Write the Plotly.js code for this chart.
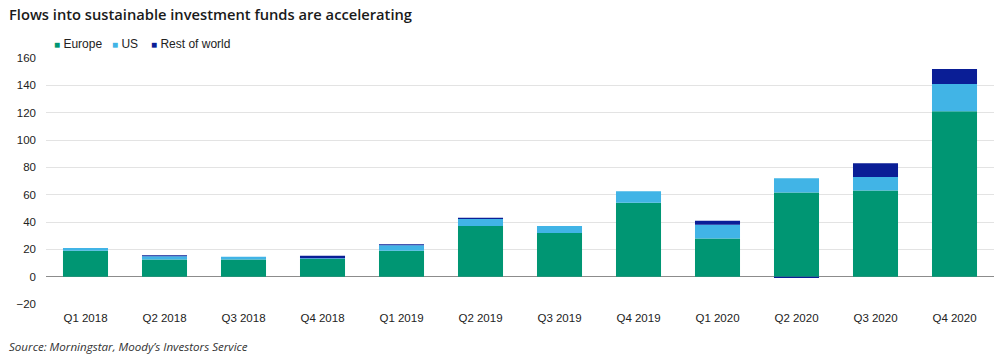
<!DOCTYPE html>
<html><head><meta charset="utf-8">
<script src="https://cdn.plot.ly/plotly-3.0.1.min.js"></script>
<style>html,body{margin:0;padding:0;background:#fff}#c{width:1004px;height:357px}</style>
</head><body><div id="c"></div>
<script>
const categories = ["Q1 2018","Q2 2018","Q3 2018","Q4 2018","Q1 2019","Q2 2019","Q3 2019","Q4 2019","Q1 2020","Q2 2020","Q3 2020","Q4 2020"];
const europe = [19, 12.5, 12.5, 13, 19, 37, 32, 54, 28, 61.5, 63, 121];
const us = [2, 2.5, 2, 0.5, 4, 5.2, 5, 8.5, 10, 10.5, 10, 20];
const restOfWorld = [0, 0.7, 0, 1.8, 0.7, 0.9, 0, 0, 3, -1, 10, 11];
const yTicks = [-20, 0, 20, 40, 60, 80, 100, 120, 140, 160];
const seriesNames = ["Europe", "US", "Rest of world"];
const seriesColors = ["#009673", "#41B4E6", "#0A1E96"];

const W = 1004, H = 357;
const M = {l: 46, r: 10, t: 58, b: 53};
const PW = W - M.l - M.r, PH = H - M.t - M.b;
const px = x => (x - M.l) / PW;           // pixel x -> paper x
const py = y => (H - M.b - y) / PH;       // pixel y -> paper y

const font = {family: "Liberation Sans, Arial, sans-serif", size: 11.5, color: "#222"};
const data = [europe, us, restOfWorld].map((y, i) => ({
  type: "bar", name: seriesNames[i], x: categories, y,
  marker: {color: seriesColors[i], line: {width: 0}}, showlegend: false
}));

// legend as text entries (square glyph + name)
const legendX = [52, 110, 149];
const legendAnn = seriesNames.map((n, i) => ({
  xref: "paper", yref: "paper", x: px(legendX[i]), y: py(43.5), xanchor: "left", yanchor: "middle",
  showarrow: false,
  text: `<span style="color:${seriesColors[i]};font-size:10px">■</span> ${n}`,
  font: {family: font.family, size: 12, color: "#222"}
}));

const layout = {
  width: W, height: H, margin: M,
  barmode: "relative", bargap: 0.43,
  paper_bgcolor: "#fff", plot_bgcolor: "#fff",
  font, showlegend: false,
  xaxis: {showgrid: false, showline: false, ticks: "", tickfont: font, ticklabelstandoff: 5},
  yaxis: {range: [-20, 160], tickvals: yTicks, showgrid: true, gridcolor: "#e3e3e3", gridwidth: 1,
          zeroline: true, zerolinecolor: "#8c8c8c", zerolinewidth: 1.5, ticks: "", tickfont: font, ticklabelstandoff: 9},
  annotations: legendAnn.concat([
    {xref: "paper", yref: "paper", x: px(7), y: py(14), xanchor: "left", yanchor: "middle",
     text: "Flows into sustainable investment funds are accelerating", showarrow: false,
     font: {family: "Open Sans, sans-serif", size: 14.7, color: "#1a1a1a", weight: 600}},
    {xref: "paper", yref: "paper", x: px(7), y: py(346), xanchor: "left", yanchor: "middle",
     text: "<i>Source: Morningstar, Moody’s Investors Service</i>", showarrow: false,
     font: {family: "Open Sans, sans-serif", size: 11.6, color: "#333"}}
  ])
};
Plotly.newPlot("c", data, layout, {displayModeBar: false, staticPlot: true});
</script></body></html>
